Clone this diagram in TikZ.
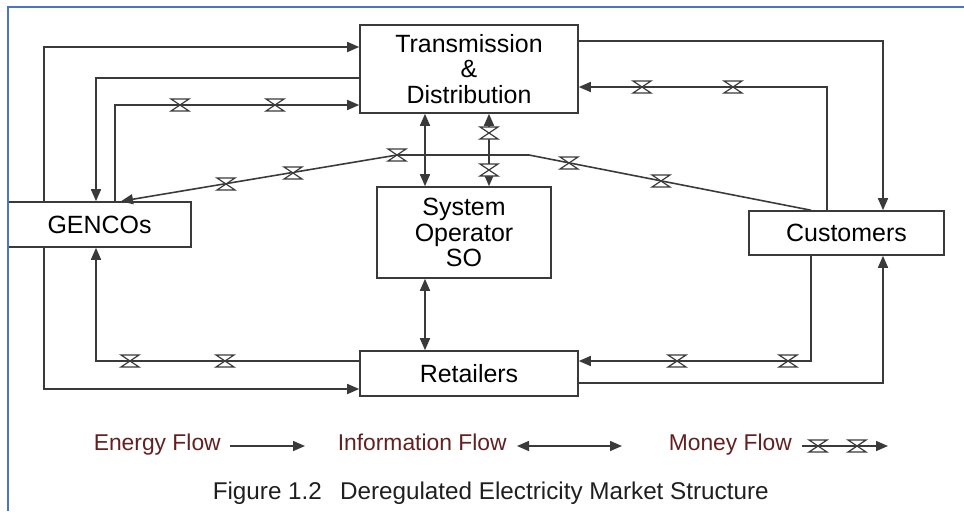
\documentclass[tikz,border=0pt]{standalone}
\usepackage{fontspec}
\setmainfont{Liberation Sans}
\usetikzlibrary{arrows.meta}
\definecolor{wire}{RGB}{58,58,58}
\definecolor{legendred}{RGB}{100,32,32}
\definecolor{frameblue}{RGB}{72,118,196}

\begin{document}
\begin{tikzpicture}[x = 0.02cm, y = -0.02cm, line width = 0.9pt,
                        block/.style = {draw = wire, fill = white, align = center, inner sep = 0pt,
                                        font = \fontsize{14.2}{14.7}\selectfont},
                        energy/.style = {draw = wire, -{Triangle[length = 2.4mm, width = 2mm]}},
                        info/.style = {draw = wire, {Triangle[length = 2.4mm, width = 2mm]}-{Triangle[length = 2.4mm, width = 2mm]}},
                        money/.style = {draw = wire, -{Triangle[length = 2.4mm, width = 2mm]}},
                        valve/.style = {draw = wire, fill = white, line width = 0.7pt, line join = miter},
                        legend/.style = {text = legendred, inner sep = 0pt, font = \fontsize{13}{15}\selectfont}]
      \useasboundingbox (0, 0) rectangle (964, 511);
      \node [block, minimum width = 4.36cm, minimum height = 1.76cm] (td) at (469, 69) {Transmission\\\&\\Distribution};
      \node [block, minimum width = 3.66cm, minimum height = 0.9cm] (gencos) at (99.5, 224.5) {GENCOs};
      \node [block, minimum width = 3.48cm, minimum height = 1.82cm] (so) at (464, 232.5) {System\\Operator\\SO};
      \node [block, minimum width = 3.9cm, minimum height = 0.88cm] (customers) at (846.5, 233) {Customers};
      \node [block, minimum width = 4.36cm, minimum height = 0.9cm] (retailers) at (469, 373.5) {Retailers};
      \draw [energy] (gencos.north -| 44, 0) |- (td.west |- 0, 47);
      \draw [energy] (td.west |- 0, 78) -| (gencos.north -| 96, 0);
      \draw [money] (gencos.north -| 115, 0) |- (td.west |- 0, 105);
      \draw [money] (customers.north -| 811, 0) -- (529, 155) -- (397, 155) -- (gencos.north -| 121, 0);
      \draw [energy] (td.east |- 0, 41) -| (customers.north -| 883, 0);
      \draw [money] (customers.north -| 827, 0) |- (td.east |- 0, 87);
      \draw [info] (td.south -| 425, 0) -- (so.north -| 425, 0);
      \draw [info] (td.south -| 489, 0) -- (so.north -| 489, 0);
      \draw [info] (so.south -| 425, 0) -- (retailers.north -| 425, 0);
      \draw [money] (retailers.west |- 0, 361) -| (gencos.south -| 96, 0);
      \draw [energy] (gencos.south -| 44, 0) |- (retailers.west |- 0, 389);
      \draw [money] (customers.south -| 811, 0) |- (retailers.east |- 0, 361);
      \draw [energy] (retailers.east |- 0, 383) -| (customers.south -| 883, 0);
      \node [legend, anchor = base west] (energylbl) at (93, 450) {Energy Flow};
      \node [legend, anchor = base west] (infolbl) at (337, 450) {Information Flow};
      \node [legend, anchor = base west] (moneylbl) at (668, 450) {Money Flow};
      \coordinate (e1) at (230, 446); \coordinate (e2) at (305, 446);
      \coordinate (i1) at (517, 446); \coordinate (i2) at (622, 446);
      \coordinate (m1) at (802, 446); \coordinate (m2) at (888, 446);
      \draw [energy] (e1) -- (e2);
      \draw [info] (i1) -- (i2);
      \draw [money] (m1) -- (m2);
      \foreach \x/\y in {180/105, 275/105, 642/87, 733/87, 489/133, 489/170,
                         397/155, 293/173, 226/184, 569/163, 661/181,
                         130/361, 225/361, 677/361, 788/361, 818/446, 857/446}
        \draw [valve] (\x - 9, \y - 6) -- (\x + 9, \y - 6) -- (\x - 9, \y + 6) -- (\x + 9, \y + 6) -- cycle;
      \node [anchor = base west, inner sep = 0pt, text = black!88, font = \fontsize{13.8}{16}\selectfont] (caption) at (212, 499)
            {Figure 1.2\hspace{0.75em}Deregulated Electricity Market Structure};
      \draw [frameblue, line width = 1.2pt] (8, 511) -- (8, 7) -- (964, 7);
    \end{tikzpicture}
\end{document}
